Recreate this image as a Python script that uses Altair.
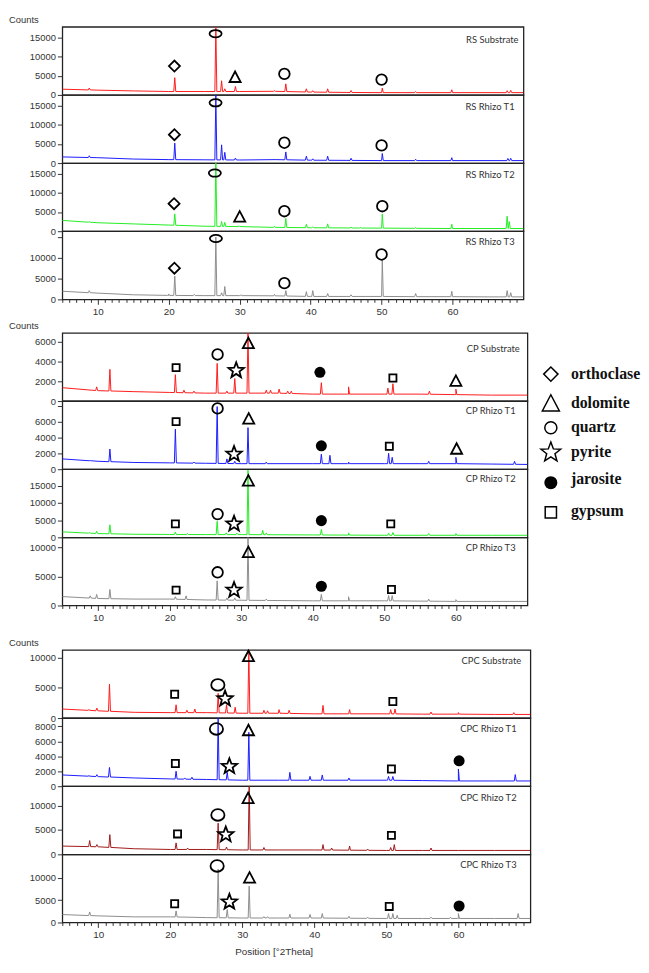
import altair as alt
import pandas as pd
import numpy as np

# ---------------- data ----------------
BASE_X = [5, 10, 15, 20, 25, 30, 35, 40, 45, 50, 55, 60, 65, 70]

# RS group
rs_sub_base = [1500, 1250, 1050, 900, 900, 900, 950, 750, 650, 600, 600, 600, 600, 600]
rs_sub_pk_x = [8.8, 20.85, 26.64, 27.45, 27.9, 29.4, 34.9, 36.5, 39.4, 40.3, 42.4, 45.7, 50.1, 54.8, 59.9, 67.7, 68.2]
rs_sub_pk_y = [1800, 4500, 17800, 3700, 1600, 2200, 1100, 2900, 1600, 1100, 1600, 1150, 1800, 900, 1350, 1100, 1200]
rs_sub_mk = ['orthoclase', 'quartz_flat', 'dolomite', 'quartz', 'quartz']
rs_sub_mk_x = [20.8, 26.6, 29.35, 36.3, 50.0]
rs_sub_mk_y = [7550, 16000, 4600, 5500, 4000]

rs_t1_base = [1600, 1400, 1050, 900, 850, 800, 900, 750, 700, 650, 650, 650, 650, 650]
rs_t1_pk_x = [8.8, 20.85, 26.64, 27.45, 27.9, 29.4, 36.5, 39.4, 40.3, 42.4, 45.7, 50.1, 54.8, 59.9, 67.8, 68.2]
rs_t1_pk_y = [1900, 5200, 17800, 4750, 2800, 1300, 2900, 1800, 1100, 1800, 1250, 2500, 1000, 1400, 1200, 1250]
rs_t1_mk = ['orthoclase', 'quartz_flat', 'quartz', 'quartz']
rs_t1_mk_x = [20.8, 26.6, 36.3, 50.0]
rs_t1_mk_y = [7400, 15700, 5300, 4600]

rs_t2_base = [2800, 2200, 1900, 1600, 1300, 1200, 1000, 900, 850, 800, 750, 700, 700, 700]
rs_t2_pk_x = [8.8, 20.85, 26.64, 27.45, 27.9, 29.9, 34.9, 36.5, 39.4, 40.3, 42.4, 45.7, 47.0, 50.1, 54.8, 59.9, 67.7, 68.0]
rs_t2_pk_y = [2500, 4500, 17700, 2500, 2300, 1400, 1300, 3300, 1800, 1100, 1900, 1100, 1000, 4450, 1000, 1800, 3900, 2500]
rs_t2_mk = ['orthoclase', 'quartz_flat', 'dolomite', 'quartz', 'quartz']
rs_t2_mk_x = [20.75, 26.5, 30.0, 36.3, 50.1]
rs_t2_mk_y = [7150, 15100, 3700, 5200, 6500]

rs_t3_base = [1950, 1500, 1100, 950, 900, 900, 850, 700, 700, 700, 650, 650, 600, 600]
rs_t3_pk_x = [8.8, 20.0, 20.85, 23.6, 26.64, 27.45, 27.9, 30.2, 34.9, 36.5, 39.4, 40.3, 42.4, 45.7, 50.1, 54.8, 59.9, 67.7, 68.2]
rs_t3_pk_y = [2100, 1300, 5600, 1200, 15000, 1600, 3100, 1100, 1200, 2100, 1850, 2100, 1400, 1100, 9500, 1400, 1950, 2100, 1600]
rs_t3_mk = ['orthoclase', 'quartz_flat', 'quartz', 'quartz']
rs_t3_mk_x = [20.8, 26.65, 36.3, 50.0]
rs_t3_mk_y = [7500, 14650, 3900, 10800]

# CP group
cp_sub_base = [1350, 1050, 950, 870, 800, 800, 800, 700, 700, 700, 700, 650, 600, 600]
cp_sub_pk_x = [9.8, 11.65, 20.8, 22.0, 23.4, 26.64, 28.0, 29.1, 30.95, 33.5, 34.1, 35.3, 36.5, 37.0, 41.2, 45.0, 50.5, 51.2, 56.3, 60.0]
cp_sub_pk_y = [1430, 3200, 2660, 1100, 1000, 3800, 1000, 2270, 7000, 1100, 1100, 1200, 1000, 1000, 1850, 1430, 1300, 1750, 1000, 1200]
cp_sub_mk = ['gypsum', 'quartz', 'pyrite', 'dolomite', 'jarosite', 'gypsum', 'dolomite']
cp_sub_mk_x = [20.9, 26.7, 29.3, 31.0, 41.0, 51.2, 60.0]
cp_sub_mk_y = [3370, 4700, 3080, 5800, 2900, 2330, 2000]

cp_t1_base = [1300, 1000, 850, 800, 750, 700, 700, 700, 700, 700, 700, 700, 650, 600]
cp_t1_pk_x = [8.9, 11.65, 20.8, 23.4, 26.64, 28.0, 29.1, 30.95, 33.5, 41.2, 42.4, 45.0, 50.6, 51.1, 56.2, 60.0, 68.2]
cp_t1_pk_y = [1100, 2550, 5050, 900, 7900, 1300, 1000, 5250, 900, 1900, 1750, 900, 2000, 1500, 1000, 1500, 1000]
cp_t1_mk = ['gypsum', 'quartz', 'pyrite', 'dolomite', 'jarosite', 'gypsum', 'dolomite']
cp_t1_mk_x = [20.9, 26.7, 29.0, 31.05, 41.2, 50.7, 60.1]
cp_t1_mk_y = [6000, 7670, 1900, 6340, 2950, 2900, 2540]

cp_t2_base = [1600, 1100, 900, 840, 800, 800, 750, 700, 650, 600, 600, 600, 600, 600]
cp_t2_pk_x = [8.8, 9.8, 11.65, 20.8, 22.5, 26.64, 27.9, 29.4, 30.95, 33.0, 33.5, 41.2, 45.0, 50.6, 51.2, 56.2, 60.0]
cp_t2_pk_y = [1400, 1770, 3650, 1500, 1100, 4670, 1300, 1200, 19500, 2050, 1300, 2300, 1300, 1200, 1400, 1100, 1100]
cp_t2_mk = ['gypsum', 'quartz', 'pyrite', 'dolomite', 'jarosite', 'gypsum']
cp_t2_mk_x = [20.8, 26.7, 29.0, 31.0, 41.2, 50.9]
cp_t2_mk_y = [3900, 6750, 3900, 16400, 4860, 3900]

cp_t3_base = [1530, 1200, 1100, 1100, 950, 900, 850, 800, 800, 800, 750, 700, 700, 700]
cp_t3_pk_x = [8.9, 9.8, 11.65, 20.8, 22.3, 26.64, 28.0, 29.1, 30.95, 33.5, 41.2, 45.0, 50.6, 51.1, 56.2, 60.0]
cp_t3_pk_y = [1650, 1900, 2750, 1500, 1650, 4230, 1300, 1300, 11700, 1100, 1900, 1500, 1700, 1700, 1100, 1000]
cp_t3_mk = ['gypsum', 'quartz', 'pyrite', 'dolomite', 'jarosite', 'gypsum']
cp_t3_mk_x = [20.9, 26.7, 29.0, 31.0, 41.2, 51.0]
cp_t3_mk_y = [2640, 5700, 2640, 9100, 3300, 2750]

# CPC group
cpc_sub_base = [1500, 1200, 950, 900, 900, 800, 800, 700, 700, 700, 650, 650, 600, 600]
cpc_sub_pk_x = [8.7, 9.8, 11.55, 20.8, 22.3, 23.4, 26.64, 27.8, 29.0, 30.9, 33.0, 33.5, 35.1, 36.5, 41.2, 44.9, 50.6, 51.2, 56.2, 60.0, 67.7]
cpc_sub_pk_y = [1400, 1650, 5600, 2200, 1300, 1500, 4100, 2200, 1800, 11500, 1300, 1200, 1400, 1300, 2100, 1400, 1400, 1500, 1000, 900, 900]
cpc_sub_mk = ['gypsum', 'quartz_big', 'pyrite', 'dolomite', 'gypsum']
cpc_sub_mk_x = [20.6, 26.6, 27.6, 30.85, 50.9]
cpc_sub_mk_y = [3950, 5500, 3200, 10200, 2750]

cpc_t1_base = [1500, 1280, 1100, 970, 900, 800, 800, 800, 800, 800, 750, 700, 700, 700]
cpc_t1_pk_x = [8.7, 9.8, 11.55, 20.8, 22.0, 23.0, 26.64, 27.9, 30.9, 36.6, 39.4, 41.1, 44.8, 50.3, 50.9, 60.0, 67.9]
cpc_t1_pk_y = [1400, 1540, 2500, 2000, 1100, 1200, 9100, 1850, 7200, 1850, 1320, 1500, 1100, 1300, 1300, 2300, 1550]
cpc_t1_mk = ['gypsum', 'quartz_big', 'pyrite', 'dolomite', 'gypsum', 'jarosite']
cpc_t1_mk_x = [20.7, 26.4, 28.2, 30.85, 50.7, 60.1]
cpc_t1_mk_y = [3030, 7650, 2640, 7430, 2300, 3390]

cpc_t2_base = [1700, 1550, 1150, 1000, 1000, 900, 900, 900, 850, 800, 800, 800, 800, 800]
cpc_t2_pk_x = [8.8, 9.8, 11.6, 20.8, 22.4, 26.64, 27.8, 30.95, 33.0, 41.2, 42.4, 44.9, 47.4, 50.6, 51.1, 56.2]
cpc_t2_pk_y = [2830, 2000, 4050, 2350, 1300, 6400, 1500, 14500, 1400, 2000, 1300, 1700, 1100, 1400, 2000, 1300]
cpc_t2_mk = ['gypsum', 'quartz_big', 'pyrite', 'dolomite', 'gypsum']
cpc_t2_mk_x = [21.0, 26.6, 27.7, 30.8, 50.7]
cpc_t2_mk_y = [4190, 8100, 4050, 11480, 3900]

cpc_t3_base = [1780, 1480, 1260, 1260, 1100, 1000, 1000, 1000, 950, 900, 900, 900, 900, 900]
cpc_t3_pk_x = [8.8, 20.8, 26.64, 27.9, 30.95, 33.0, 33.5, 36.6, 39.4, 41.1, 44.8, 47.4, 50.3, 50.9, 51.5, 56.2, 58.9, 60.0, 68.3]
cpc_t3_pk_y = [2370, 2600, 12000, 2900, 8150, 1300, 1300, 1850, 1800, 2000, 1400, 1200, 2000, 2000, 1600, 1200, 1200, 2000, 2000]
cpc_t3_mk = ['gypsum', 'quartz_big', 'pyrite', 'dolomite', 'gypsum', 'jarosite']
cpc_t3_mk_x = [20.6, 26.5, 28.2, 31.0, 50.4, 60.1]
cpc_t3_mk_y = [4200, 12700, 4600, 10000, 3600, 3700]

panel_labels = [
    ["RS Substrate", "RS Rhizo T1", "RS Rhizo T2", "RS Rhizo T3"],
    ["CP Substrate", "CP Rhizo T1", "CP Rhizo T2", "CP Rhizo T3"],
    ["CPC Substrate", "CPC Rhizo T1", "CPC Rhizo T2", "CPC Rhizo T3"],
]
line_colors = [
    ["#ff1a1a", "#1a1aff", "#22ee22", "#8c8c8c"],
    ["#ff1a1a", "#1a1aff", "#22ee22", "#8c8c8c"],
    ["#ff1a1a", "#1a1aff", "#a01818", "#8c8c8c"],
]
y_tops = [
    [17800, 17750, 17700, 16400],
    [6870, 8600, 19800, 11700],
    [11300, 9100, 14000, 15300],
]
y_ticks = [
    [[0, 5000, 10000, 15000]] * 4,
    [[0, 2000, 4000, 6000], [0, 2000, 4000, 6000, 8000], [0, 5000, 10000, 15000], [0, 5000, 10000]],
    [[0, 5000, 10000], [0, 2000, 4000, 6000, 8000], [0, 5000, 10000], [0, 5000, 10000]],
]
y_hidden = [
    [None, None, None, 15000],
    [None, 8000, None, None],
    [None, None, None, None],
]
label_y = [[13, 12.5, 12, 10.5], [16, 10.5, 9.5, 10.5], [11, 11.5, 11.5, 11]]
label_right = [[462, 458, 458, 458], [463.3, 459, 459, 459], [464.7, 460, 460, 460]]

legend_names = ["orthoclase", "dolomite", "quartz", "pyrite", "jarosite", "gypsum"]
legend_text_y = [41.7, 70.7, 95.3, 121, 148.3, 180.7]
legend_sym_y = [41.7, 71.7, 96, 121, 151.7, 181.7]

group_series = [
    [(rs_sub_base, rs_sub_pk_x, rs_sub_pk_y, rs_sub_mk, rs_sub_mk_x, rs_sub_mk_y),
     (rs_t1_base, rs_t1_pk_x, rs_t1_pk_y, rs_t1_mk, rs_t1_mk_x, rs_t1_mk_y),
     (rs_t2_base, rs_t2_pk_x, rs_t2_pk_y, rs_t2_mk, rs_t2_mk_x, rs_t2_mk_y),
     (rs_t3_base, rs_t3_pk_x, rs_t3_pk_y, rs_t3_mk, rs_t3_mk_x, rs_t3_mk_y)],
    [(cp_sub_base, cp_sub_pk_x, cp_sub_pk_y, cp_sub_mk, cp_sub_mk_x, cp_sub_mk_y),
     (cp_t1_base, cp_t1_pk_x, cp_t1_pk_y, cp_t1_mk, cp_t1_mk_x, cp_t1_mk_y),
     (cp_t2_base, cp_t2_pk_x, cp_t2_pk_y, cp_t2_mk, cp_t2_mk_x, cp_t2_mk_y),
     (cp_t3_base, cp_t3_pk_x, cp_t3_pk_y, cp_t3_mk, cp_t3_mk_x, cp_t3_mk_y)],
    [(cpc_sub_base, cpc_sub_pk_x, cpc_sub_pk_y, cpc_sub_mk, cpc_sub_mk_x, cpc_sub_mk_y),
     (cpc_t1_base, cpc_t1_pk_x, cpc_t1_pk_y, cpc_t1_mk, cpc_t1_mk_x, cpc_t1_mk_y),
     (cpc_t2_base, cpc_t2_pk_x, cpc_t2_pk_y, cpc_t2_mk, cpc_t2_mk_x, cpc_t2_mk_y),
     (cpc_t3_base, cpc_t3_pk_x, cpc_t3_pk_y, cpc_t3_mk, cpc_t3_mk_x, cpc_t3_mk_y)],
]

# ---------------- styling / layout ----------------
GROUP_W = [467, 471, 474]
PANEL_H = 69
SPACERS = [34, 45]

TRI = "M0,-1L0.95,0.8L-0.95,0.8Z"
STAR = ("M0,-1L0.247,-0.34L0.951,-0.309L0.399,0.13L0.588,0.809L0,0.42"
        "L-0.588,0.809L-0.399,0.13L-0.951,-0.309L-0.247,-0.34Z")
ELL_FLAT = "M-1,0A1,0.6 0 1,1 1,0A1,0.6 0 1,1 -1,0Z"
ELL_BIG = "M-1,0A1,0.88 0 1,1 1,0A1,0.88 0 1,1 -1,0Z"

STYLE = {
    "orthoclase": dict(shape="diamond", size=125, filled=False),
    "dolomite": dict(shape=TRI, size=140, filled=False),
    "quartz": dict(shape="circle", size=115, filled=False),
    "quartz_flat": dict(shape=ELL_FLAT, size=150, filled=False),
    "quartz_big": dict(shape=ELL_BIG, size=180, filled=False),
    "pyrite": dict(shape=STAR, size=270, filled=False),
    "jarosite": dict(shape="circle", size=125, filled=True),
    "gypsum": dict(shape="square", size=52, filled=False),
}
LEGEND_STYLE = {
    "orthoclase": dict(shape="diamond", size=210, filled=False),
    "dolomite": dict(shape=TRI, size=330, filled=False),
    "quartz": dict(shape="circle", size=150, filled=False),
    "pyrite": dict(shape=STAR, size=440, filled=False),
    "jarosite": dict(shape="circle", size=175, filled=True),
    "gypsum": dict(shape="square", size=130, filled=False),
}

AX_FONT = "Liberation Sans"


def trace(base, pkx, pky, w=0.14):
    pts = list(zip(BASE_X, base))
    for p, t in zip(pkx, pky):
        f = float(np.interp(p, BASE_X, base))
        pts += [(p - w, f), (p, t), (p + w, f)]
    pts.sort()
    df = pd.DataFrame(pts, columns=["x", "y"])
    df["i"] = range(len(df))
    return df


def point_mark(st, sw):
    if st["filled"]:
        return alt.Chart().mark_point(shape=st["shape"], size=st["size"], filled=True,
                                      color="black", opacity=1)
    return alt.Chart().mark_point(shape=st["shape"], size=st["size"], filled=False,
                                  color="black", strokeWidth=sw, opacity=1)


def make_panel(g, k):
    base, pkx, pky, mk, mkx, mky = group_series[g][k]
    width = GROUP_W[g]
    hide = y_hidden[g][k]
    yaxis_kw = dict(values=y_ticks[g][k], title=None, format="d", labelFont=AX_FONT, labelFontSize=9.5,
                    labelColor="#333", tickColor="#333", tickSize=5, labelPadding=2,
                    domain=False, grid=False, labelOverlap=False)
    if hide is not None:
        yaxis_kw["labelExpr"] = f"datum.value == {hide} ? '' : datum.label"
    yenc = alt.Y("y:Q", scale=alt.Scale(domain=[0, y_tops[g][k]], nice=False, zero=True),
                 axis=alt.Axis(**yaxis_kw))
    if k == 3:
        xaxis_kw = dict(values=list(range(5, 70)),
                        labelExpr="datum.value % 10 === 0 ? datum.label : ''",
                        tickSize={"condition": {"test": "datum.value % 10 === 0", "value": 5}, "value": 3},
                        tickColor="#333", labelFont=AX_FONT, labelFontSize=10, labelColor="#333",
                        labelPadding=2, domain=False, grid=False, labelOverlap=False, labelFlush=False,
                        title=None)
        if g == 2:
            xaxis_kw.update(title="Position [°2Theta]", titleFont=AX_FONT, titleFontSize=10,
                            titleFontWeight="normal", titleColor="#333", titleX=214, titleY=29,
                            titleAlign="center", titleBaseline="middle")
        xaxis = alt.Axis(**xaxis_kw)
    else:
        xaxis = None
    xenc = alt.X("x:Q", scale=alt.Scale(domain=[5, 70], nice=False, zero=False), axis=xaxis)

    layers = []
    line_df = trace(base, pkx, pky)
    layers.append(alt.Chart(line_df).mark_line(color=line_colors[g][k], strokeWidth=1, clip=True)
                  .encode(x=xenc, y=yenc, order="i:Q"))

    mdf = pd.DataFrame({"kind": mk, "x": mkx, "y": mky})
    for kind in dict.fromkeys(mk):
        sub = mdf[mdf["kind"] == kind]
        ch = point_mark(STYLE[kind], 1.8)
        layers.append(ch.properties(data=sub).encode(x=xenc, y=yenc))

    layers.append(alt.Chart(pd.DataFrame({"t": [panel_labels[g][k]]}))
                  .mark_text(align="right", baseline="middle", font="Lato", fontSize=9.5, color="#333")
                  .encode(x=alt.value(label_right[g][k]), y=alt.value(label_y[g][k]), text="t:N"))

    if k == 0:
        layers.append(alt.Chart(pd.DataFrame({"t": ["Counts"]}))
                      .mark_text(align="left", baseline="middle", font=AX_FONT, fontSize=9.5, color="#333")
                      .encode(x=alt.value(-54), y=alt.value(-7), text="t:N"))

    if g == 1 and k == 0:
        for name, ty, sy in zip(legend_names, legend_text_y, legend_sym_y):
            st = LEGEND_STYLE[name]
            ch = point_mark(st, 1.5)
            layers.append(ch.properties(data=pd.DataFrame({"n": [name]}))
                          .encode(x=alt.value(494.7), y=alt.value(sy)))
            layers.append(alt.Chart(pd.DataFrame({"t": [name]}))
                          .mark_text(align="left", baseline="middle", font="Liberation Serif",
                                     fontSize=16, fontWeight="bold", color="#111")
                          .encode(x=alt.value(515), y=alt.value(ty), text="t:N"))

    return alt.layer(*layers).properties(width=width, height=PANEL_H)


def spacer(h, w):
    return (alt.Chart(pd.DataFrame({"x": [0]})).mark_point(opacity=0)
            .encode(x=alt.value(0), y=alt.value(0))
            .properties(width=w, height=h, view=alt.ViewBackground(strokeOpacity=0)))


charts = []
for g in range(3):
    for k in range(4):
        charts.append(make_panel(g, k))
    if g < 2:
        charts.append(spacer(SPACERS[g], GROUP_W[g]))

chart = (alt.vconcat(*charts, spacing=0, bounds="flush")
         .properties(padding=0)
         .configure_view(stroke="#222", strokeWidth=1.3))

chart.save("out.html", embed_options={"renderer": "svg", "actions": False})
